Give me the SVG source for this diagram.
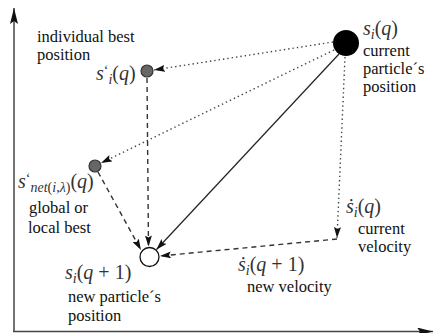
<svg xmlns="http://www.w3.org/2000/svg" width="433" height="333" viewBox="0 0 433 333">
<style>
  text { font-family: "Liberation Serif", "DejaVu Serif", serif; font-size: 16.5px; fill: #111; }
  .m { font-size: 20px; font-style: italic; fill: #333; }
  .up { font-style: normal; }
  .sub { font-size: 14px; }
  .axis { stroke: #444; stroke-width: 1.5; fill: none; }
  .dot { stroke: #444; stroke-width: 1.4; fill: none; stroke-dasharray: 1.4 3; }
  .dash { stroke: #333; stroke-width: 1.4; fill: none; stroke-dasharray: 5 4; }
  .solid { stroke: #222; stroke-width: 1.2; fill: none; }
  .best { fill: #666; stroke: #333; stroke-width: 1.2; }
</style>
<defs>
  <marker id="ax" markerUnits="userSpaceOnUse" markerWidth="17" markerHeight="8" refX="16" refY="4" orient="auto">
    <path d="M0,0 L16,4 L0,8 L3,4 z" fill="#111"/>
  </marker>
  <marker id="ar" markerUnits="userSpaceOnUse" markerWidth="12" markerHeight="7" refX="11" refY="3.5" orient="auto">
    <path d="M0,0 L11,3.5 L0,7 L2,3.5 z" fill="#111"/>
  </marker>
</defs>
<g id="axes">
  <line class="axis" x1="14" y1="332" x2="14" y2="8" marker-end="url(#ax)"/>
  <line class="axis" x1="13" y1="331.5" x2="433" y2="331.5" marker-end="url(#ax)"/>
</g>
<g id="connectors">
  <line class="dot" x1="333" y1="42" x2="154" y2="70" marker-end="url(#ar)"/>
  <line class="dot" x1="334" y1="50" x2="101" y2="163" marker-end="url(#ar)"/>
  <line class="solid" x1="339" y1="54" x2="156.5" y2="249.5" marker-end="url(#ar)"/>
  <line class="dot" x1="345" y1="57" x2="337" y2="238" marker-end="url(#ar)"/>
  <line class="dash" x1="337" y1="239" x2="160" y2="256" marker-end="url(#ar)"/>
  <line class="dash" x1="147" y1="78" x2="148.5" y2="246.5" marker-end="url(#ar)"/>
  <line class="dash" x1="98" y1="172" x2="141" y2="250" marker-end="url(#ar)"/>
</g>
<g id="current">
  <circle cx="346" cy="43" r="13" fill="#000"/>
  <text class="m" x="363" y="35">s<tspan class="sub" dy="4">i</tspan><tspan class="up" dy="-4">(</tspan>q<tspan class="up">)</tspan></text>
  <text x="363" y="56">current</text>
  <text x="363" y="74">particle´s</text>
  <text x="363" y="92">position</text>
</g>
<g id="individual-best">
  <circle class="best" cx="147" cy="71" r="6"/>
  <text x="37" y="42">individual best</text>
  <text x="37" y="60">position</text>
  <text class="m" x="96" y="80">s<tspan class="sub up" dy="-5">‘</tspan><tspan class="sub" dy="9">i</tspan><tspan class="up" dy="-4">(</tspan>q<tspan class="up">)</tspan></text>
</g>
<g id="global-best">
  <circle class="best" cx="95" cy="166" r="6"/>
  <text class="m" x="18" y="188">s<tspan class="sub up" dy="-5">‘</tspan><tspan class="sub" dy="9">net<tspan class="up">(</tspan>i<tspan class="up">,</tspan>λ<tspan class="up">)</tspan></tspan><tspan class="up" dy="-4">(</tspan>q<tspan class="up">)</tspan></text>
  <text x="29" y="213">global or</text>
  <text x="28" y="233">local best</text>
</g>
<g id="new-position">
  <circle cx="149.5" cy="257" r="9.5" fill="#fff" stroke="#111" stroke-width="1.3"/>
  <text class="m" x="65" y="279">s<tspan class="sub" dy="4">i</tspan><tspan class="up" dy="-4">(</tspan>q<tspan class="up"> + 1)</tspan></text>
  <text x="68" y="302">new particle´s</text>
  <text x="68" y="321">position</text>
</g>
<g id="current-velocity">
  <text class="m" x="346" y="213">ṡ<tspan class="sub" dy="4">i</tspan><tspan class="up" dy="-4">(</tspan>q<tspan class="up">)</tspan></text>
  <text x="358" y="234">current</text>
  <text x="358" y="252">velocity</text>
</g>
<g id="new-velocity">
  <text class="m" x="238" y="271">ṡ<tspan class="sub" dy="4">i</tspan><tspan class="up" dy="-4">(</tspan>q<tspan class="up"> + 1)</tspan></text>
  <text x="247" y="292">new velocity</text>
</g>
</svg>
